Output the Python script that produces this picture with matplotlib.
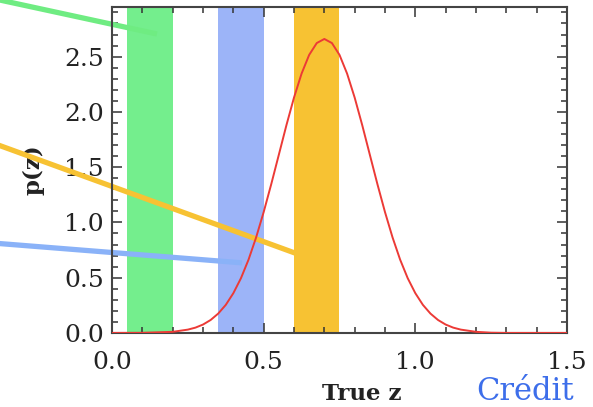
import numpy as np
import matplotlib.pyplot as plt
from matplotlib.ticker import MultipleLocator

# Data
Z_VALUES = [0.0, 0.1, 0.2, 0.25, 0.275, 0.3, 0.325, 0.35, 0.375, 0.4, 0.425, 0.45,
            0.475, 0.5, 0.525, 0.55, 0.575, 0.6, 0.625, 0.65, 0.675, 0.7,
            0.725, 0.75, 0.775, 0.8, 0.825, 0.85, 0.875, 0.9, 0.925, 0.95,
            0.975, 1.0, 1.025, 1.05, 1.075, 1.1, 1.125, 1.15, 1.2, 1.25, 1.3, 1.4, 1.5]
PZ_VALUES = [0.0, 0.001, 0.010, 0.030, 0.048, 0.076, 0.117, 0.175, 0.254, 0.360, 0.495, 0.663,
             0.864, 1.094, 1.347, 1.613, 1.880, 2.130, 2.347, 2.516, 2.623, 2.660,
             2.623, 2.516, 2.347, 2.130, 1.880, 1.613, 1.347, 1.094, 0.864, 0.663,
             0.495, 0.360, 0.254, 0.175, 0.117, 0.076, 0.048, 0.030, 0.010, 0.002, 0.0, 0.0, 0.0]

X_TICKS = [0.0, 0.5, 1.0, 1.5]
Y_TICKS = [0.0, 0.5, 1.0, 1.5, 2.0, 2.5]

BAND_RANGES = [(0.05, 0.20), (0.35, 0.50), (0.60, 0.75)]
BAND_COLORS = ['#74EE8D', '#9CB4F8', '#F7C233']

# pointer lines coming in from the left (z, p(z) endpoints)
POINTER_Z = [(-0.40, 0.148), (-0.40, 0.630), (-0.40, 0.429)]
POINTER_P = [(3.03, 2.705), (1.725, 0.696), (0.815, 0.634)]
POINTER_COLORS = ['#6FEC82', '#F7C233', '#8AB2F8']

FONT = 'DejaVu Serif'


def main():
    fig = plt.figure(figsize=(5.93, 4.07), dpi=100)
    ax = fig.add_axes([0.189, 0.182, 0.767, 0.801])

    for (lo, hi), col in zip(BAND_RANGES, BAND_COLORS):
        ax.axvspan(lo, hi, color=col, lw=0, zorder=1)

    for zs, ps, col in zip(POINTER_Z, POINTER_P, POINTER_COLORS):
        ax.plot(zs, ps, color=col, lw=3.8, solid_capstyle='butt', clip_on=False, zorder=2)

    ax.plot(Z_VALUES, PZ_VALUES, color='#EC3A36', lw=1.4, zorder=3)

    ax.set_xlim(0, 1.5)
    ax.set_ylim(0, 2.95)
    ax.set_xticks(X_TICKS)
    ax.set_xticklabels([f'{v:.1f}' for v in X_TICKS])
    ax.set_yticks(Y_TICKS)
    ax.set_yticklabels([f'{v:.1f}' for v in Y_TICKS])
    ax.xaxis.set_minor_locator(MultipleLocator(0.1))
    ax.yaxis.set_minor_locator(MultipleLocator(0.1))
    ax.tick_params(which='both', direction='in', top=True, right=True, color='#333333', width=1.1)
    ax.tick_params(which='major', length=7)
    ax.tick_params(which='minor', length=4)
    ax.tick_params(axis='x', pad=13)
    ax.tick_params(axis='y', pad=6)
    for lab in ax.get_xticklabels() + ax.get_yticklabels():
        lab.set_fontfamily(FONT)
        lab.set_fontsize(18)
        lab.set_color('#222222')
    for sp in ax.spines.values():
        sp.set_color('#444444')
        sp.set_linewidth(1.5)

    ax.set_xlabel('True z', fontfamily=FONT, fontsize=16.5, fontweight='bold', color='#222222', labelpad=7)
    ax.xaxis.set_label_coords(0.55, -0.155)
    ax.set_ylabel('p(z)', fontfamily=FONT, fontsize=16.5, fontweight='bold', color='#222222', labelpad=14)

    fig.text(0.803, 0.0, 'Crédit', fontfamily=FONT, fontsize=22, color='#3D6EEA',
             ha='left', va='bottom')

    fig.savefig('out.png', dpi=100)


if __name__ == '__main__':
    main()
